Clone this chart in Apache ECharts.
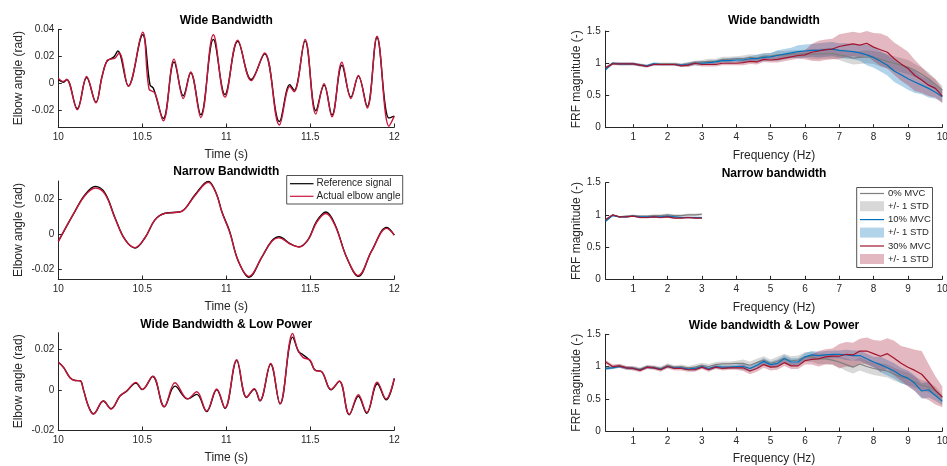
<!DOCTYPE html>
<html>
<head>
<meta charset="utf-8">
<script src="https://cdn.jsdelivr.net/npm/echarts@6/dist/echarts.min.js"></script>
<style>
  html, body { margin: 0; padding: 0; background: #fff; }
  #chart { width: 947px; height: 466px; }
</style>
</head>
<body>
<div id="chart"></div>
<script>
// ---------- Time-domain tracking (left column): [time s, angle rad] ----------
const wideRef = [[10.000,0.0030],[10.030,0.0010],[10.050,0.0030],[10.113,-0.0186],[10.169,0.0045],[10.224,-0.0138],[10.260,0.0050],[10.290,0.0165],[10.330,0.0195],[10.354,0.0240],[10.417,-0.0017],[10.502,0.0360],[10.546,-0.0010],[10.566,-0.0035],[10.625,-0.0257],[10.689,0.0160],[10.744,-0.0090],[10.788,0.0080],[10.848,-0.0230],[10.923,0.0326],[10.992,-0.0080],[11.068,0.0312],[11.148,0.0030],[11.228,0.0220],[11.316,-0.0280],[11.378,-0.0008],[11.404,-0.0050],[11.469,0.0315],[11.533,-0.0200],[11.582,-0.0010],[11.629,-0.0232],[11.688,0.0135],[11.742,-0.0100],[11.786,0.0055],[11.839,-0.0168],[11.897,0.0340],[11.968,-0.0254],[12.000,-0.0240]];
const wideAct = [[10.000,0.0040],[10.030,0.0015],[10.050,0.0030],[10.113,-0.0192],[10.169,0.0052],[10.224,-0.0142],[10.260,0.0050],[10.290,0.0170],[10.310,0.0180],[10.335,0.0185],[10.362,0.0225],[10.417,-0.0020],[10.502,0.0378],[10.540,-0.0040],[10.575,-0.0070],[10.625,-0.0275],[10.689,0.0180],[10.744,-0.0110],[10.788,0.0085],[10.848,-0.0250],[10.923,0.0360],[10.992,-0.0100],[11.068,0.0320],[11.148,0.0022],[11.228,0.0226],[11.316,-0.0305],[11.378,-0.0022],[11.404,-0.0060],[11.469,0.0326],[11.533,-0.0225],[11.582,0.0000],[11.629,-0.0245],[11.688,0.0157],[11.742,-0.0110],[11.786,0.0060],[11.839,-0.0180],[11.897,0.0350],[11.968,-0.0314],[12.000,-0.0240]];

const narrowRef = [[10.000,-0.0042],[10.099,0.0131],[10.159,0.0226],[10.220,0.0274],[10.278,0.0236],[10.338,0.0093],[10.397,-0.0031],[10.457,-0.0080],[10.516,-0.0021],[10.576,0.0083],[10.635,0.0120],[10.680,0.0124],[10.734,0.0131],[10.814,0.0226],[10.893,0.0303],[10.940,0.0235],[10.975,0.0125],[11.020,0.0015],[11.071,-0.0154],[11.135,-0.0248],[11.210,-0.0135],[11.270,-0.0040],[11.314,-0.0015],[11.380,-0.0055],[11.433,-0.0073],[11.488,-0.0030],[11.538,0.0074],[11.593,0.0127],[11.647,0.0055],[11.717,-0.0135],[11.786,-0.0242],[11.865,-0.0097],[11.955,0.0038],[12.000,-0.0006]];
const narrowAct = [[10.000,-0.0042],[10.099,0.0130],[10.159,0.0222],[10.220,0.0265],[10.278,0.0230],[10.338,0.0090],[10.397,-0.0032],[10.457,-0.0078],[10.516,-0.0021],[10.576,0.0082],[10.635,0.0119],[10.680,0.0123],[10.734,0.0130],[10.814,0.0222],[10.893,0.0298],[10.940,0.0232],[10.975,0.0122],[11.020,0.0012],[11.071,-0.0154],[11.135,-0.0243],[11.210,-0.0135],[11.270,-0.0043],[11.314,-0.0022],[11.380,-0.0057],[11.433,-0.0074],[11.488,-0.0032],[11.538,0.0068],[11.593,0.0118],[11.647,0.0050],[11.717,-0.0135],[11.786,-0.0238],[11.865,-0.0098],[11.955,0.0033],[12.000,-0.0006]];

const lowRef = [[10.000,0.0137],[10.030,0.0113],[10.070,0.0060],[10.100,0.0046],[10.130,0.0045],[10.149,0.0002],[10.179,-0.0081],[10.210,-0.0119],[10.268,-0.0056],[10.314,-0.0094],[10.367,-0.0031],[10.407,-0.0007],[10.462,0.0033],[10.500,0.0001],[10.562,0.0066],[10.631,-0.0084],[10.695,0.0018],[10.770,-0.0045],[10.824,-0.0023],[10.883,-0.0108],[10.943,0.0000],[10.992,-0.0092],[11.062,0.0145],[11.121,-0.0038],[11.167,0.0003],[11.200,-0.0055],[11.264,0.0127],[11.320,-0.0070],[11.395,0.0262],[11.430,0.0190],[11.449,0.0179],[11.498,0.0145],[11.528,0.0098],[11.568,0.0090],[11.623,0.0000],[11.673,0.0042],[11.732,-0.0124],[11.786,-0.0032],[11.836,-0.0117],[11.899,0.0030],[11.951,-0.0050],[12.000,0.0056]];
const lowAct = [[10.000,0.0137],[10.030,0.0113],[10.070,0.0060],[10.100,0.0046],[10.130,0.0045],[10.149,0.0002],[10.179,-0.0082],[10.208,-0.0121],[10.268,-0.0056],[10.314,-0.0096],[10.367,-0.0031],[10.407,-0.0005],[10.462,0.0037],[10.500,0.0002],[10.562,0.0068],[10.631,-0.0084],[10.695,0.0035],[10.770,-0.0045],[10.824,-0.0010],[10.883,-0.0106],[10.943,0.0004],[10.992,-0.0090],[11.062,0.0150],[11.121,-0.0036],[11.167,0.0006],[11.200,-0.0053],[11.264,0.0131],[11.320,-0.0069],[11.395,0.0280],[11.425,0.0200],[11.458,0.0160],[11.498,0.0148],[11.528,0.0097],[11.568,0.0090],[11.623,0.0002],[11.673,0.0044],[11.732,-0.0122],[11.786,-0.0025],[11.836,-0.0113],[11.899,0.0038],[11.951,-0.0046],[12.000,0.0058]];

// ---------- FRF magnitude (right column) ----------
const freqFull = [0.2,0.4,0.6,0.8,1.0,1.2,1.4,1.6,1.8,2.0,2.2,2.4,2.6,2.8,3.0,3.2,3.4,3.6,3.8,4.0,4.2,4.4,4.6,4.8,5.0,5.2,5.4,5.6,5.8,6.0,6.2,6.4,6.6,6.8,7.0,7.2,7.4,7.6,7.8,8.0,8.2,8.4,8.6,8.8,9.0,9.2,9.4,9.6,9.8,10.0];
const freqNarrow = [0.2,0.4,0.6,0.8,1.0,1.2,1.4,1.6,1.8,2.0,2.2,2.4,2.6,2.8,3.0];

// Wide bandwidth
const wbGrayMean = [0.93,1.00,0.99,0.99,0.99,0.98,0.96,0.99,0.99,0.99, 0.99,0.98,0.99,1.01,1.02,1.03,1.03,1.06,1.06,1.07, 1.07,1.09,1.08,1.11,1.11,1.13,1.13,1.14,1.14,1.15, 1.14,1.14,1.15,1.15,1.13,1.11,1.08,1.09,1.10,1.09, 1.06,1.03,1.00,0.97,0.94,0.89,0.83,0.76,0.67,0.58];
const wbBlueMean = [0.90,1.00,0.99,0.99,0.99,0.97,0.96,0.99,0.98,0.98, 0.98,0.97,0.98,1.00,1.00,1.01,1.02,1.04,1.04,1.05, 1.05,1.07,1.07,1.09,1.10,1.12,1.14,1.16,1.18,1.19, 1.20,1.20,1.21,1.22,1.20,1.19,1.18,1.16,1.13,1.09, 1.03,0.97,0.88,0.82,0.76,0.71,0.66,0.61,0.55,0.48];
const wbRedMean  = [0.93,0.99,0.99,0.99,0.99,0.97,0.95,0.98,0.98,0.98, 0.98,0.96,0.97,1.00,0.98,0.98,0.98,1.00,1.00,1.00, 1.01,1.03,1.02,1.06,1.05,1.06,1.08,1.10,1.12,1.13, 1.17,1.19,1.21,1.22,1.26,1.28,1.30,1.28,1.31,1.25, 1.21,1.17,1.07,0.99,0.92,0.81,0.74,0.66,0.61,0.49];
const wbGrayStd  = [0.02,0.02,0.02,0.02,0.02,0.02,0.02,0.02,0.02,0.02, 0.02,0.02,0.03,0.03,0.03,0.04,0.04,0.04,0.04,0.04, 0.05,0.05,0.05,0.05,0.05,0.06,0.06,0.06,0.06,0.06, 0.08,0.08,0.08,0.08,0.08,0.10,0.10,0.10,0.10,0.10, 0.11,0.11,0.11,0.11,0.11,0.10,0.10,0.10,0.08,0.07];
const wbBlueStd  = [0.02,0.02,0.02,0.02,0.02,0.02,0.02,0.02,0.02,0.02, 0.02,0.02,0.03,0.03,0.03,0.03,0.03,0.03,0.04,0.04, 0.04,0.04,0.06,0.06,0.06,0.08,0.08,0.08,0.10,0.10, 0.10,0.11,0.11,0.11,0.11,0.12,0.12,0.12,0.16,0.16, 0.16,0.16,0.17,0.17,0.17,0.17,0.14,0.14,0.10,0.08];
const wbRedStd   = [0.02,0.02,0.02,0.02,0.02,0.02,0.02,0.02,0.02,0.02, 0.02,0.02,0.03,0.03,0.03,0.03,0.03,0.03,0.03,0.03, 0.04,0.04,0.04,0.04,0.04,0.05,0.05,0.05,0.05,0.07, 0.13,0.16,0.16,0.16,0.19,0.19,0.19,0.19,0.19,0.22, 0.25,0.25,0.25,0.26,0.26,0.24,0.20,0.17,0.14,0.11];

// Narrow bandwidth
const nbGrayMean = [0.92,1.00,0.97,0.98,0.99,0.98,0.98,0.99,0.99,1.00,0.99,0.99,1.00,1.00,1.01];
const nbBlueMean = [0.90,0.99,0.97,0.97,0.98,0.97,0.97,0.97,0.97,0.98,0.97,0.96,0.96,0.96,0.96];
const nbRedMean  = [0.93,1.00,0.97,0.97,0.98,0.96,0.96,0.97,0.96,0.97,0.95,0.95,0.96,0.95,0.95];
const nbGrayStd  = [0.01,0.01,0.01,0.015,0.015,0.015,0.015,0.02,0.02,0.02,0.02,0.02,0.02,0.02,0.02];
const nbBlueStd  = [0.01,0.01,0.01,0.01,0.01,0.015,0.015,0.015,0.015,0.015,0.015,0.015,0.015,0.015,0.015];
const nbRedStd   = [0.01,0.01,0.01,0.01,0.01,0.015,0.015,0.015,0.015,0.015,0.015,0.015,0.015,0.015,0.015];

// Wide bandwidth & low power
const lpGrayMean = [0.97,0.99,1.01,0.98,0.98,0.96,0.99,0.99,0.97,1.02, 0.99,1.00,0.98,0.99,1.02,1.00,1.03,1.04,1.04,1.05, 1.05,1.02,1.06,1.10,1.05,1.08,1.13,1.09,1.10,1.15, 1.15,1.12,1.12,1.10,1.07,1.03,0.99,1.04,1.00,0.97, 0.95,0.93,0.88,0.84,0.81,0.76,0.71,0.68,0.62,0.52];
const lpBlueMean = [0.97,0.98,1.00,0.98,0.97,0.95,0.99,0.98,0.96,1.00, 0.98,0.98,0.96,0.97,1.00,0.97,1.00,0.99,0.99,1.00, 1.00,0.97,1.02,1.08,1.03,1.05,1.12,1.07,1.07,1.15, 1.18,1.17,1.18,1.19,1.19,1.18,1.17,1.17,1.12,1.07, 1.03,0.98,0.93,0.86,0.82,0.74,0.62,0.64,0.55,0.46];
const lpRedMean  = [1.07,1.00,1.01,0.98,0.97,0.94,0.99,0.98,0.95,1.00, 0.97,0.97,0.95,0.95,0.99,0.95,0.99,0.97,0.98,0.98, 0.98,0.93,0.97,1.03,0.99,1.00,1.06,1.01,1.01,1.09, 1.11,1.12,1.15,1.16,1.16,1.19,1.18,1.24,1.24,1.20, 1.16,1.20,1.13,1.05,0.99,0.94,0.88,0.76,0.63,0.53];
const lpGrayStd  = [0.03,0.03,0.03,0.03,0.03,0.03,0.03,0.03,0.03,0.03, 0.03,0.03,0.03,0.04,0.04,0.04,0.04,0.04,0.04,0.04, 0.06,0.06,0.06,0.06,0.06,0.07,0.07,0.07,0.07,0.07, 0.08,0.08,0.08,0.08,0.08,0.10,0.10,0.10,0.10,0.10, 0.10,0.10,0.10,0.10,0.10,0.08,0.08,0.08,0.07,0.05];
const lpBlueStd  = [0.02,0.02,0.02,0.02,0.02,0.02,0.02,0.02,0.02,0.02, 0.02,0.02,0.02,0.03,0.03,0.03,0.03,0.03,0.03,0.03, 0.05,0.05,0.05,0.05,0.05,0.06,0.06,0.06,0.06,0.06, 0.06,0.06,0.06,0.06,0.06,0.08,0.08,0.08,0.08,0.08, 0.12,0.12,0.12,0.12,0.12,0.12,0.12,0.12,0.08,0.06];
const lpRedStd   = [0.03,0.03,0.03,0.03,0.03,0.03,0.03,0.03,0.03,0.03, 0.03,0.03,0.03,0.03,0.03,0.03,0.03,0.03,0.03,0.03, 0.05,0.05,0.05,0.05,0.05,0.05,0.05,0.05,0.05,0.06, 0.08,0.12,0.12,0.12,0.19,0.19,0.19,0.19,0.21,0.21, 0.24,0.24,0.27,0.27,0.30,0.32,0.36,0.28,0.22,0.16];

// ---------- Labels ----------
const leftTitles  = ['Wide Bandwidth', 'Narrow Bandwidth', 'Wide Bandwidth & Low Power'];
const rightTitles = ['Wide bandwidth', 'Narrow bandwidth', 'Wide bandwidth & Low Power'];
const timeTicks = [10, 10.5, 11, 11.5, 12];
const angleTicks = [[-0.02, 0, 0.02, 0.04], [-0.02, 0, 0.02], [-0.02, 0, 0.02]];
const angleRanges = [[-0.032, 0.04], [-0.0258, 0.0305], [-0.02, 0.0284]];
const freqTicks = [1, 2, 3, 4, 5, 6, 7, 8, 9, 10];
const legendLeft = ['Reference signal', 'Actual elbow angle'];
const legendRight = ['0% MVC', '+/- 1 STD', '10% MVC', '+/- 1 STD', '30% MVC', '+/- 1 STD'];

// ---------- Styling ----------
const FONT = '"Liberation Sans", Arial, Helvetica, sans-serif';
const AX = '#262626';
const C_REF = '#000000', C_ACT = '#C8163A';
const C_GRAY = '#7f7f7f', C_BLUE = '#0072BD', C_RED = '#A2142F';

const leftBoxes  = [{top: 29.3, h: 97.7}, {top: 181, h: 98}, {top: 332.7, h: 97.3}];
const rightBoxes = [{top: 31, h: 96.7}, {top: 182.7, h: 96.6}, {top: 334.3, h: 96.7}];
const L_X = 58.3, L_W = 336, R_X = 605.7, R_W = 336.6;

const grids = [], xAxes = [], yAxes = [], series = [];

function fmtNum(v) { return v === 0 ? '0' : String(+v.toFixed(3)); }

function axisBase() {
  return {
    axisLine: { show: true, onZero: false, lineStyle: { color: AX, width: 1 } },
    axisTick: { show: true, inside: true, length: 3.5, lineStyle: { color: AX, width: 1 } },
    splitLine: { show: false },
    nameTextStyle: { fontFamily: FONT, fontSize: 12, color: AX },
  };
}

// left column
leftBoxes.forEach((b, i) => {
  grids.push({ left: L_X, top: b.top, width: L_W, height: b.h, containLabel: false, outerBoundsMode: 'none' });
  xAxes.push(Object.assign(axisBase(), {
    type: 'value', gridIndex: grids.length - 1, min: 10, max: 12,
    name: 'Time (s)', nameLocation: 'middle', nameGap: 22,
    axisTick: { show: true, inside: true, length: 3.5, customValues: timeTicks, lineStyle: { color: AX } },
    axisLabel: { customValues: timeTicks, formatter: fmtNum, fontFamily: FONT, fontSize: 10, color: AX, margin: 5 },
  }));
  yAxes.push(Object.assign(axisBase(), {
    type: 'value', gridIndex: grids.length - 1, min: angleRanges[i][0], max: angleRanges[i][1],
    name: 'Elbow angle (rad)', nameLocation: 'middle', nameGap: 34, nameRotate: 90,
    axisTick: { show: true, inside: true, length: 3.5, customValues: angleTicks[i], lineStyle: { color: AX } },
    axisLabel: { customValues: angleTicks[i], formatter: fmtNum, fontFamily: FONT, fontSize: 10, color: AX, margin: 4 },
  }));
});

// right column
rightBoxes.forEach((b) => {
  grids.push({ left: R_X, top: b.top, width: R_W, height: b.h, containLabel: false, outerBoundsMode: 'none' });
  xAxes.push(Object.assign(axisBase(), {
    type: 'value', gridIndex: grids.length - 1, min: 0.2, max: 10,
    name: 'Frequency (Hz)', nameLocation: 'middle', nameGap: 22,
    axisTick: { show: true, inside: true, length: 3.5, customValues: freqTicks, lineStyle: { color: AX } },
    axisLabel: { customValues: freqTicks, formatter: fmtNum, fontFamily: FONT, fontSize: 10, color: AX, margin: 5 },
  }));
  yAxes.push(Object.assign(axisBase(), {
    type: 'value', gridIndex: grids.length - 1, min: 0, max: 1.5, interval: 0.5,
    name: 'FRF magnitude (-)', nameLocation: 'middle', nameGap: 23, nameRotate: 90,
    axisLabel: { formatter: fmtNum, fontFamily: FONT, fontSize: 10, color: AX, margin: 5 },
  }));
});

function timeLine(idx, pts, color) {
  return { type: 'line', xAxisIndex: idx, yAxisIndex: idx, data: pts, symbol: 'none', smooth: 0.38,
           lineStyle: { color: color, width: 1.4 }, silent: true, clip: true };
}
function frfLine(idx, freq, mean, color) {
  return { type: 'line', xAxisIndex: idx, yAxisIndex: idx, data: freq.map((f, i) => [f, mean[i]]),
           symbol: 'none', lineStyle: { color: color, width: 1.2 }, silent: true };
}
// shaded mean +/- std band, drawn as one polygon through the axis scales
function frfBand(idx, freq, mean, std, color) {
  return {
    type: 'custom', xAxisIndex: idx, yAxisIndex: idx, silent: true,
    data: freq.map((f, i) => [f, mean[i] - std[i], mean[i] + std[i]]),
    encode: { x: 0, y: [1, 2] },
    renderItem: function (params, api) {
      if (params.dataIndex !== 0) return null;
      const upper = freq.map((f, i) => api.coord([f, mean[i] + std[i]]));
      const lower = freq.map((f, i) => api.coord([f, mean[i] - std[i]])).reverse();
      return { type: 'polygon', shape: { points: upper.concat(lower) }, style: { fill: color, opacity: 0.3 } };
    }
  };
}

series.push(timeLine(0, wideRef, C_REF), timeLine(0, wideAct, C_ACT));
series.push(timeLine(1, narrowRef, C_REF), timeLine(1, narrowAct, C_ACT));
series.push(timeLine(2, lowRef, C_REF), timeLine(2, lowAct, C_ACT));

const frfSets = [
  [3, freqFull, wbGrayMean, wbGrayStd, wbBlueMean, wbBlueStd, wbRedMean, wbRedStd],
  [4, freqNarrow, nbGrayMean, nbGrayStd, nbBlueMean, nbBlueStd, nbRedMean, nbRedStd],
  [5, freqFull, lpGrayMean, lpGrayStd, lpBlueMean, lpBlueStd, lpRedMean, lpRedStd],
];
frfSets.forEach(([idx, f, gm, gs, bm, bs, rm, rs]) => {
  series.push(frfBand(idx, f, gm, gs, C_GRAY), frfLine(idx, f, gm, C_GRAY));
  series.push(frfBand(idx, f, bm, bs, C_BLUE), frfLine(idx, f, bm, C_BLUE));
  series.push(frfBand(idx, f, rm, rs, C_RED), frfLine(idx, f, rm, C_RED));
});

// ---------- Titles and legends ----------
const graphics = [];
const titleY = [[21, 172, 324.5], [21, 173.5, 325.5]];
leftTitles.forEach((t, i) => graphics.push({ type: 'text', x: L_X + L_W / 2, y: titleY[0][i],
  style: { text: t, fill: '#000', font: 'bold 12px ' + FONT, textAlign: 'center', textVerticalAlign: 'middle' } }));
rightTitles.forEach((t, i) => graphics.push({ type: 'text', x: R_X + R_W / 2, y: titleY[1][i],
  style: { text: t, fill: '#000', font: 'bold 12px ' + FONT, textAlign: 'center', textVerticalAlign: 'middle' } }));

// legend of the narrow-bandwidth time plot
graphics.push({ type: 'rect', shape: { x: 286.7, y: 175.5, width: 116, height: 28.5 },
  style: { fill: '#fff', stroke: AX, lineWidth: 0.8 }, z: 100 });
[[legendLeft[0], C_REF, 183.7], [legendLeft[1], C_ACT, 196.3]].forEach(([t, c, y]) => {
  graphics.push({ type: 'line', shape: { x1: 290, y1: y, x2: 313.5, y2: y }, style: { stroke: c, lineWidth: 1.2 }, z: 101 });
  graphics.push({ type: 'text', x: 316.5, y: y, style: { text: t, fill: AX, font: '10px ' + FONT, textVerticalAlign: 'middle' }, z: 101 });
});

// legend of the FRF panels
graphics.push({ type: 'rect', shape: { x: 856.7, y: 187.5, width: 75.8, height: 80 },
  style: { fill: '#fff', stroke: AX, lineWidth: 0.8 }, z: 100 });
const rowY = [193.5, 206.2, 219.6, 232.6, 246, 259];
const rowColors = [C_GRAY, C_GRAY, C_BLUE, C_BLUE, C_RED, C_RED];
legendRight.forEach((t, i) => {
  const y = rowY[i];
  if (i % 2 === 0) {
    graphics.push({ type: 'line', shape: { x1: 860, y1: y, x2: 884, y2: y }, style: { stroke: rowColors[i], lineWidth: 1.2 }, z: 101 });
  } else {
    graphics.push({ type: 'rect', shape: { x: 860, y: y - 5, width: 24, height: 10 }, style: { fill: rowColors[i], opacity: 0.3 }, z: 101 });
  }
  graphics.push({ type: 'text', x: 888, y: y, style: { text: t, fill: AX, font: '9.5px ' + FONT, textVerticalAlign: 'middle' }, z: 101 });
});

const chart = echarts.init(document.getElementById('chart'), null, { renderer: 'canvas' });
chart.setOption({
  animation: false,
  backgroundColor: '#fff',
  textStyle: { fontFamily: FONT },
  grid: grids, xAxis: xAxes, yAxis: yAxes, series: series, graphic: graphics,
});
</script>
</body>
</html>
